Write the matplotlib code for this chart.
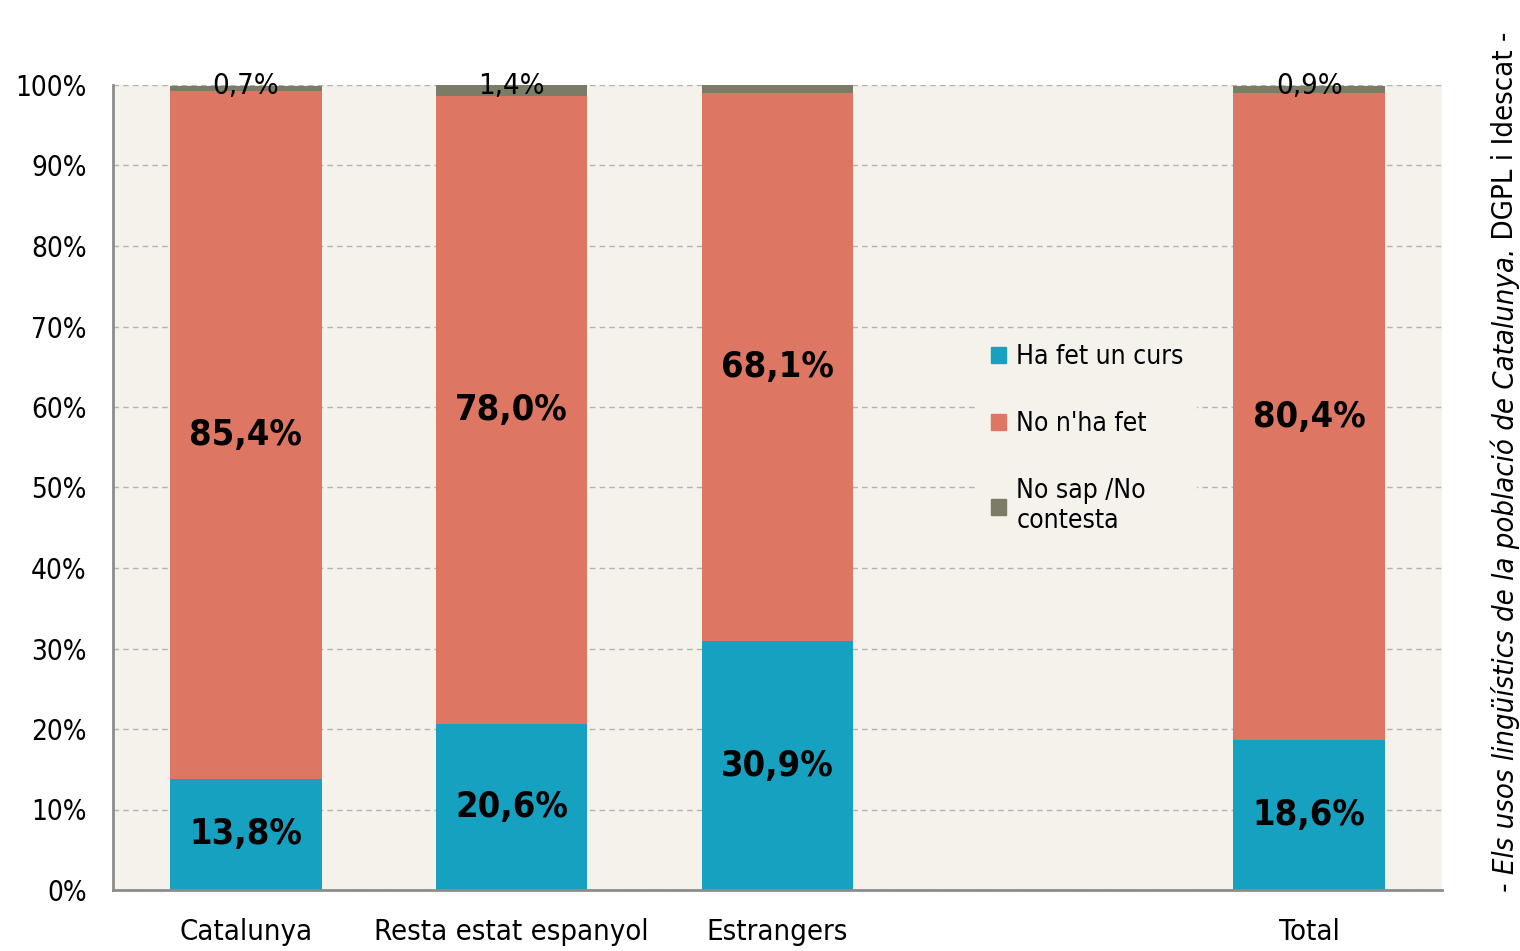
import matplotlib
matplotlib.use("Agg")
import matplotlib.pyplot as plt
from matplotlib.patches import Patch

plt.rcParams['font.family'] = ['DejaVu Sans']
plt.rcParams['font.stretch'] = 'condensed'

# dades (percentatges)
categories = ["Catalunya", "Resta estat espanyol", "Estrangers", "", "Total"]
ha_fet = [13.8, 20.6, 30.9, None, 18.6]
no_ha_fet = [85.4, 78.0, 68.1, None, 80.4]
ns_nc = [0.7, 1.4, 1.0, None, 0.9]
ns_nc_labels = ["0,7%", "1,4%", "", "", "0,9%"]
series_names = ["Ha fet un curs", "No n'ha fet", "No sap /No\ncontesta"]

c_curs = "#16A1C0"
c_no = "#DD7763"
c_nsnc = "#7C7B65"
bg = "#F5F1EB"

fig = plt.figure(figsize=(15.2, 9.51), dpi=100)
ax = fig.add_axes([113/1520, 1-890/951, (1442-113)/1520, (890-85)/951])
ax.set_facecolor(bg)

def fmt(v):
    return ("%.1f%%" % v).replace(".", ",")

w = 0.57
for i, cat in enumerate(categories):
    if ha_fet[i] is None:
        continue
    a, b, c = ha_fet[i], no_ha_fet[i], ns_nc[i]
    ax.bar(i, a, width=w, color=c_curs, zorder=2)
    ax.bar(i, b, width=w, bottom=a, color=c_no, zorder=2)
    ax.bar(i, c, width=w, bottom=a + b, color=c_nsnc, zorder=2)
    ax.text(i, a / 2, fmt(a), ha="center", va="center", fontsize=26,
            fontweight="bold", zorder=3)
    ax.text(i, a + b / 2, fmt(b), ha="center", va="center", fontsize=26,
            fontweight="bold", zorder=3)
    if ns_nc_labels[i]:
        ax.text(i, 99.9, ns_nc_labels[i], ha="center", va="center",
                fontsize=21, zorder=3)

ax.set_xlim(-0.5, len(categories) - 0.5)
ax.set_ylim(0, 100)
ax.set_yticks(range(0, 101, 10))
ax.set_yticklabels(["%d%%" % v for v in range(0, 101, 10)], fontsize=20)
ax.set_xticks(range(len(categories)))
ax.set_xticklabels(categories, fontsize=21)
ax.tick_params(axis="both", length=0)
ax.tick_params(axis="y", pad=19)
ax.tick_params(axis="x", pad=20)
ax.yaxis.grid(True, linestyle=(0, (4, 3)), color="#B5B2AE", linewidth=1, zorder=0)
ax.set_axisbelow(True)
for s in ["top", "right"]:
    ax.spines[s].set_visible(False)
for s in ["left", "bottom"]:
    ax.spines[s].set_color("#8C8C8C")
    ax.spines[s].set_linewidth(2)

handles = [Patch(color=c_curs), Patch(color=c_no), Patch(color=c_nsnc)]
leg = ax.legend(handles, series_names, loc="upper left",
                bbox_to_anchor=((965-113)/(1442-113), (890-318)/805),
                fontsize=19, frameon=True, facecolor=bg, edgecolor="none",
                framealpha=1, handlelength=0.55, handleheight=0.55,
                handletextpad=0.4, labelspacing=1.55, borderpad=0.5,
                fancybox=False)
leg.set_zorder(4)

# font vertical
t1 = fig.text(1505/1520, 1-892/951,
              "- Els usos lingüístics de la població de Catalunya.",
              rotation=90, ha="center", va="bottom", fontsize=21,
              style="italic")
fig.canvas.draw()
bb = t1.get_window_extent()
fig.text(1505/1520, bb.y1/fig.bbox.height, " DGPL i Idescat -",
         rotation=90, ha="center", va="bottom", fontsize=21)

fig.savefig("out.png", dpi=100)
